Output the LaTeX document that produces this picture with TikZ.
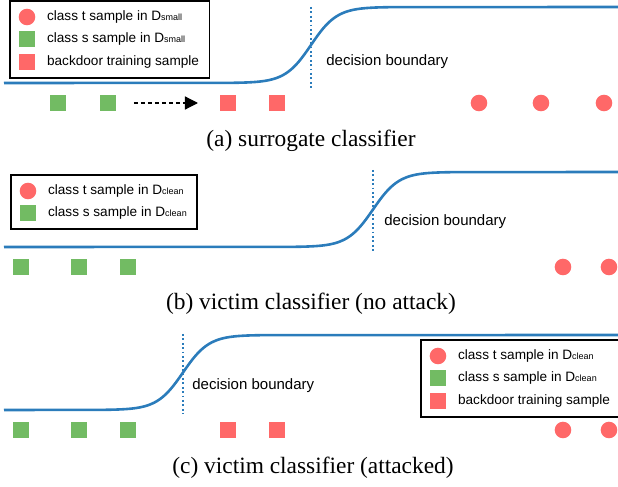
\documentclass[tikz,border=0pt]{standalone}
\usepackage{fontspec}
\setmainfont{Liberation Serif}
\newfontfamily\lsans{Liberation Sans}
\usetikzlibrary{arrows.meta,positioning,fit}
\definecolor{ptred}{RGB}{255,104,104}
\definecolor{ptgreen}{RGB}{114,187,99}
\definecolor{bndblue}{RGB}{43,124,187}
\newcommand{\dsub}[1]{D{\fontsize{4.5}{5}\selectfont #1}}

\begin{document}
\begin{tikzpicture}[x=0.5pt,y=-0.5pt]
\tikzset{tpt/.style={circle,fill=ptred,minimum size=8.3pt,inner sep=0pt},
  spt/.style={rectangle,fill=ptgreen,minimum size=8.3pt,inner sep=0pt},
  bpt/.style={rectangle,fill=ptred,minimum size=8.3pt,inner sep=0pt},
  lab/.style={font=\lsans\fontsize{6.8}{8}\selectfont,inner sep=1pt},
  bnd/.style={font=\lsans\fontsize{7.5}{9}\selectfont,anchor=west,inner sep=1pt},
  legbox/.style={draw,line width=0.9pt,inner xsep=4pt,inner ysep=3.5pt},
  curve/.style={bndblue,line width=1.3pt},
  dbound/.style={bndblue,line width=1pt,dash pattern=on 0.9pt off 1.3pt},
  capt/.style={font=\fontsize{11.7}{14}\selectfont}}
\useasboundingbox (0,0) rectangle (618,487);

% (a) surrogate classifier
\draw[curve] (4,83) -- plot[domain=231:391,samples=60] (\x,{83-76/(1+exp(-(\x-311)/13))}) -- (618,7);
\draw[dbound] (311,7) -- (311,88);
\node[bnd] (bnda) at (324,62) {decision boundary};
\node[tpt] (la1) at (27,17) {};
\node[spt] (la2) at (27,39) {};
\node[bpt] (la3) at (27,62) {};
\node[lab,right=4.5pt of la1] (ta1) {class t sample in \dsub{small}};
\node[lab,right=4.5pt of la2] (ta2) {class s sample in \dsub{small}};
\node[lab,right=4.5pt of la3] (ta3) {backdoor training sample};
\node[legbox,fit=(la1)(la3)(ta1)(ta2)(ta3)] (lega) {};
\foreach \px [count=\i] in {58,108} \node[spt] (sa\i) at (\px,103) {};
\foreach \px [count=\i] in {228,277} \node[bpt] (ba\i) at (\px,103) {};
\foreach \px [count=\i] in {479,541,604} \node[tpt] (ra\i) at (\px,103) {};
\coordinate (arrs) at (134,103);
\coordinate (arre) at (198,103);
\draw[dash pattern=on 2pt off 1.5pt,line width=0.6pt,-{Triangle[length=6.5pt,width=6.5pt]}] (arrs) -- (arre);
\node[capt] (capa) at (311,141) {(a) surrogate classifier};

% (b) victim classifier, no attack
\draw[curve] (4,247) -- plot[domain=293:453,samples=60] (\x,{247-75/(1+exp(-(\x-373)/13))}) -- (618,172);
\draw[dbound] (373,170) -- (373,251);
\node[bnd] (bndb) at (382,222) {decision boundary};
\node[tpt] (lb1) at (28,191) {};
\node[spt] (lb2) at (28,213) {};
\node[lab,right=4.5pt of lb1] (tb1) {class t sample in \dsub{clean}};
\node[lab,right=4.5pt of lb2] (tb2) {class s sample in \dsub{clean}};
\node[legbox,fit=(lb1)(lb2)(tb1)(tb2)] (legb) {};
\foreach \px [count=\i] in {21,79,128} \node[spt] (sb\i) at (\px,267) {};
\foreach \px [count=\i] in {563,609} \node[tpt] (rb\i) at (\px,267) {};
\node[capt] (capb) at (311,304) {(b) victim classifier (no attack)};

% (c) victim classifier, attacked
\draw[curve] (4,410) -- plot[domain=103:263,samples=60] (\x,{410-75/(1+exp(-(\x-183)/13))}) -- (618,335);
\draw[dbound] (183,334) -- (183,414);
\node[bnd] (bndc) at (190,386) {decision boundary};
\node[tpt] (lc1) at (438,356) {};
\node[spt] (lc2) at (438,378) {};
\node[bpt] (lc3) at (438,401) {};
\node[lab,right=4.5pt of lc1] (tc1) {class t sample in \dsub{clean}};
\node[lab,right=4.5pt of lc2] (tc2) {class s sample in \dsub{clean}};
\node[lab,right=4.5pt of lc3] (tc3) {backdoor training sample};
\node[legbox,fit=(lc1)(lc3)(tc1)(tc2)(tc3)] (legc) {};
\foreach \px [count=\i] in {21,79,128} \node[spt] (sc\i) at (\px,430) {};
\foreach \px [count=\i] in {228,277} \node[bpt] (bc\i) at (\px,430) {};
\foreach \px [count=\i] in {563,609} \node[tpt] (rc\i) at (\px,430) {};
\node[capt] (capc) at (313,468) {(c) victim classifier (attacked)};
\end{tikzpicture}
\end{document}
